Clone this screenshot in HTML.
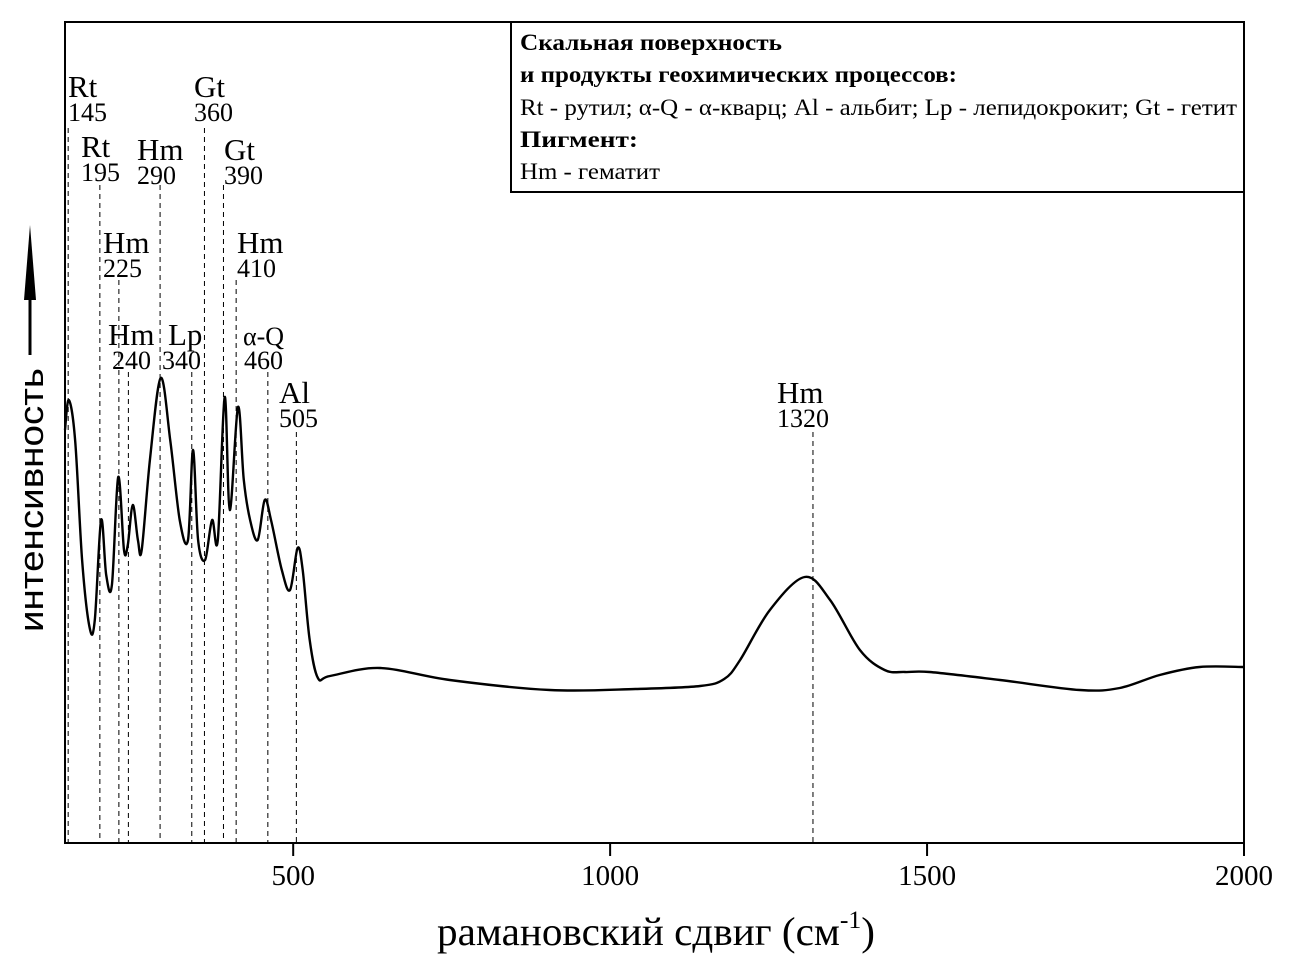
<!DOCTYPE html>
<html><head><meta charset="utf-8"><style>
body{margin:0;background:#fff}
svg{display:block;font-family:"Liberation Serif",serif}
</style></head><body>
<svg id="chart" width="1289" height="972" viewBox="0 0 1289 972" xmlns="http://www.w3.org/2000/svg">
<rect x="65" y="22" width="1179" height="821" fill="none" stroke="#000" stroke-width="2"/>
<g id="xaxis"></g>
<g id="peaks"></g>
<path id="curve" fill="none" stroke="#000" stroke-width="2.4"/>
<text x="437" y="945" font-size="40" textLength="438" lengthAdjust="spacingAndGlyphs">рамановский сдвиг (см<tspan font-size="25" dy="-17">-1</tspan><tspan dy="17">)</tspan></text>
<g>
<text transform="translate(43,632) rotate(-90)" font-family="Liberation Sans,sans-serif" font-size="34" textLength="264" lengthAdjust="spacingAndGlyphs">интенсивность</text>
<line x1="30" y1="355" x2="30" y2="290" stroke="#000" stroke-width="3"/>
<polygon points="30,225 24,300 36,300" fill="#000"/>
</g>
<g>
<rect x="511" y="22" width="733" height="170" fill="#fff" stroke="#000" stroke-width="2"/>
<text x="520" y="50" font-size="23" font-weight="bold" textLength="262" lengthAdjust="spacingAndGlyphs">Скальная поверхность</text>
<text x="520" y="82" font-size="23" font-weight="bold" textLength="437" lengthAdjust="spacingAndGlyphs">и продукты геохимических процессов:</text>
<text x="520" y="115" font-size="23" textLength="717" lengthAdjust="spacingAndGlyphs">Rt - рутил; α-Q - α-кварц; Al - альбит; Lp - лепидокрокит; Gt - гетит</text>
<text x="520" y="147" font-size="23" font-weight="bold" textLength="118" lengthAdjust="spacingAndGlyphs">Пигмент:</text>
<text x="520" y="179" font-size="23" textLength="140" lengthAdjust="spacingAndGlyphs">Hm - гематит</text>
</g>
</svg>
<script>
const shiftVals=[140,146,156,167,179,187,197,205,214,224,233,239,247,255,261,274,291,306,321,334,342,350,361,372,381,392,400,413,422,432,444,455,465,482,495,507,515,526,539,558,637,747,905,1040,1142,1180,1205,1252,1307,1347,1394,1433,1465,1504,1615,1741,1804,1867,1930,2000];
const intensity=[413,443,403,283,215,223,323,268,258,366,293,298,338,303,293,383,465,403,323,303,393,303,283,323,303,446,333,436,363,323,303,343,323,273,253,295,273,203,165,167,175,163,153,154,157,164,183,233,266,243,193,173,171,171,163,153,155,168,176,176];
const xTicks=[500,1000,1500,2000];
const peakNames=["Rt","Rt","Hm","Hm","Hm","Lp","Gt","Gt","Hm","α-Q","Al","Hm"];
const peakVals=[145,195,225,240,290,340,360,390,410,460,505,1320];
const NS="http://www.w3.org/2000/svg";
const X0=140,X1=2000,PX0=65,PX1=1244;
function xs(v){return PX0+(v-X0)*(PX1-PX0)/(X1-X0);}
function ys(v){return 843-v;}
const pts=shiftVals.map((v,i)=>[xs(v),ys(intensity[i])]);
let d="M"+pts[0][0]+","+pts[0][1];
for(let i=0;i<pts.length-1;i++){
 const p0=pts[Math.max(0,i-1)],p1=pts[i],p2=pts[i+1],p3=pts[Math.min(pts.length-1,i+2)];
 const c1=[p1[0]+(p2[0]-p0[0])/6,p1[1]+(p2[1]-p0[1])/6];
 const c2=[p2[0]-(p3[0]-p1[0])/6,p2[1]-(p3[1]-p1[1])/6];
 d+=" C"+c1[0].toFixed(1)+","+c1[1].toFixed(1)+" "+c2[0].toFixed(1)+","+c2[1].toFixed(1)+" "+p2[0].toFixed(1)+","+p2[1].toFixed(1);
}
document.getElementById('curve').setAttribute('d',d);
const xa=document.getElementById('xaxis');
xTicks.forEach(t=>{
 const l=document.createElementNS(NS,'line');
 
 
 l.setAttribute('x1',xs(t));l.setAttribute('x2',xs(t));l.setAttribute('y1',843);l.setAttribute('y2',856);
 l.setAttribute('stroke','#000');l.setAttribute('stroke-width','2');xa.appendChild(l);
 const tx=document.createElementNS(NS,'text');
 
 
 tx.setAttribute('x',xs(t));tx.setAttribute('y',885);tx.setAttribute('text-anchor','middle');tx.setAttribute('font-size','29');
 tx.textContent=t;xa.appendChild(tx);
});
const layout=[[68,97,128],[81,157,185],[103,253,280],[108,345,372],[137,160,185],[163,345,372],[194,97,128],[224,160,185],[237,253,280],[243,345,372],[279,403,432],[777,403,432]];
const pk=document.getElementById('peaks');
peakVals.forEach((v,i)=>{
 const [lx,by,top]=layout[i];
 const l=document.createElementNS(NS,'line');
 
 
 l.setAttribute('x1',xs(v));l.setAttribute('x2',xs(v));l.setAttribute('y1',top);l.setAttribute('y2',843);
 l.setAttribute('stroke','#000');l.setAttribute('stroke-width','1');l.setAttribute('stroke-dasharray','5,4');pk.appendChild(l);
 const n=document.createElementNS(NS,'text');
 
 
 const big=peakNames[i]!=="α-Q";
 n.setAttribute('x',(i===5)?lx+5:lx);n.setAttribute('y',by);n.setAttribute('font-size',big?'31':'26');
 n.textContent=peakNames[i];pk.appendChild(n);
 const t=document.createElementNS(NS,'text');
 
 
 t.setAttribute('x',(i===3)?lx+4:(i===5?lx-1:(i===9?lx+1:lx)));t.setAttribute('y',by+24);t.setAttribute('font-size','26');
 t.textContent=v;pk.appendChild(t);
});
</script>
</body></html>
